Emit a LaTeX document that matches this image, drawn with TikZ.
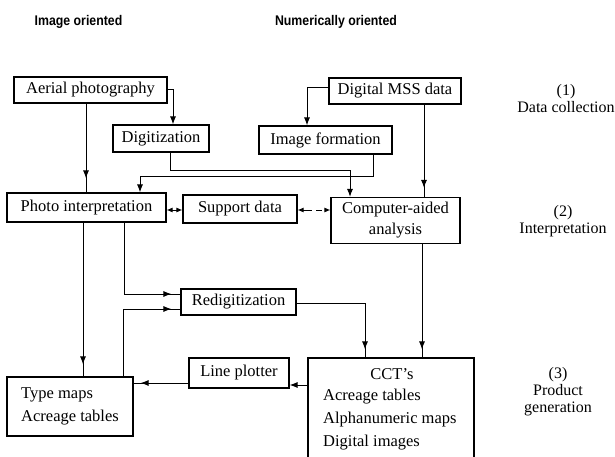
\documentclass[tikz,border=0pt]{standalone}
\usepackage{fontspec}
\setmainfont{Liberation Serif}
\newfontfamily\hdrfont[FakeStretch=0.88]{Liberation Sans}
\usetikzlibrary{arrows.meta,decorations.markings}

\tikzset{
  box/.style={draw, line width=1.1pt, inner sep=0pt, align=center,
    font=\fontsize{16.5}{21}\selectfont},
  txt/.style={inner sep=0pt, font=\fontsize{16.5}{23}\selectfont},
  side/.style={inner sep=0pt, align=center, font=\fontsize{16}{17}\selectfont},
  hdr/.style={inner sep=0pt, font=\hdrfont\bfseries\fontsize{14}{16}\selectfont},
  conn/.style={line width=1pt},
  tip/.style={conn, -{Latex[length=8pt,width=6pt]}},
  bitip/.style={conn, {Latex[length=6pt,width=5pt]}-{Latex[length=6pt,width=5pt]}},
  midtip/.style={conn, postaction={decorate},
    decoration={markings, mark=at position -#1 with {\arrow{Latex[length=8pt,width=6pt]}}}},
}

\begin{document}
\begin{tikzpicture}[x=1pt,y=-1pt]
\useasboundingbox (0,0) rectangle (615,457);
\clip (0,0) rectangle (615,457);

% headers
\node[hdr] (h1) at (78.5,22) {Image oriented};
\node[hdr] (h2) at (336,22) {Numerically oriented};

% side labels
\node[side] (lab1) at (566,99) {(1)\\Data collection};
\node[side] (lab2) at (563,221) {(2)\\Interpretation};
\node[side] (lab3) at (558,392) {(3)\\Product\\generation};

% boxes
\node[box, minimum width=153pt, minimum height=26pt] (aerial) at (90.5,90) {Aerial photography};
\node[box, minimum width=96pt, minimum height=27pt] (digit) at (161,138.5) {Digitization};
\node[box, minimum width=132pt, minimum height=26pt] (mss) at (395,91) {Digital MSS data};
\node[box, minimum width=133pt, minimum height=28pt] (imgform) at (325.5,140) {Image formation};
\node[box, minimum width=159pt, minimum height=29pt] (photo) at (86.5,207.5) {Photo interpretation};
\node[box, minimum width=114pt, minimum height=28pt] (support) at (240,209) {Support data};
\node[box, minimum width=129pt, minimum height=46pt] (caa) at (395.5,220.5) {Computer-aided\\analysis};
\node[box, minimum width=115pt, minimum height=26pt] (redig) at (238.5,302) {Redigitization};
\node[box, minimum width=100pt, minimum height=30pt] (lineplot) at (239,373) {Line plotter};
\node[box, minimum width=126pt, minimum height=59pt, align=left,
      font=\fontsize{16.5}{23}\selectfont] (typemaps) at (70,406.5) {Type maps\\Acreage tables};
\node[box, minimum width=166pt, minimum height=112pt] (cct) at (391,414) {};
\node[txt] (ccttitle) at (392,374) {CCT's};
\node[txt, anchor=west, align=left] (cctlist) at (323,420) {Acreage tables\\Alphanumeric maps\\Digital images};

% connectors
\draw[midtip=14pt] (86,0 |- aerial.south) -- (86,0 |- photo.north);
\draw[tip] (aerial.east) -| (173,0 |- digit.north);
\draw[tip] (mss.west |- 0,88) -| (307,0 |- imgform.north);
\draw[midtip=9pt] (424,0 |- mss.south) -- (424,0 |- caa.north);
\draw[tip] (170,0 |- digit.south) |- (350,171) -- (350,0 |- caa.north);
\draw[tip] (373,0 |- imgform.south) |- (140,177) -- (140,0 |- photo.north);
\draw[bitip] (photo.east |- 0,210) -- (support.west |- 0,210);
\draw[bitip, dash pattern=on 9pt off 4pt on 6pt off 4pt on 20pt] (support.east |- 0,210) -- (caa.west |- 0,210);
\draw[midtip=9pt] (124,0 |- photo.south) |- (redig.west |- 0,294);
\draw[midtip=9pt] (123,0 |- typemaps.north) |- (redig.west |- 0,309);
\draw[midtip=12pt] (83,0 |- photo.south) -- (83,0 |- typemaps.north);
\draw[midtip=8pt] (redig.east |- 0,303) -| (365,0 |- cct.north);
\draw[midtip=8pt] (422,0 |- caa.south) -- (422,0 |- cct.north);
\draw[tip] (cct.west |- 0,385) -- (lineplot.east |- 0,385);
\draw[midtip=7pt] (lineplot.west |- 0,383) -- (typemaps.east |- 0,383);
\end{tikzpicture}
\end{document}
